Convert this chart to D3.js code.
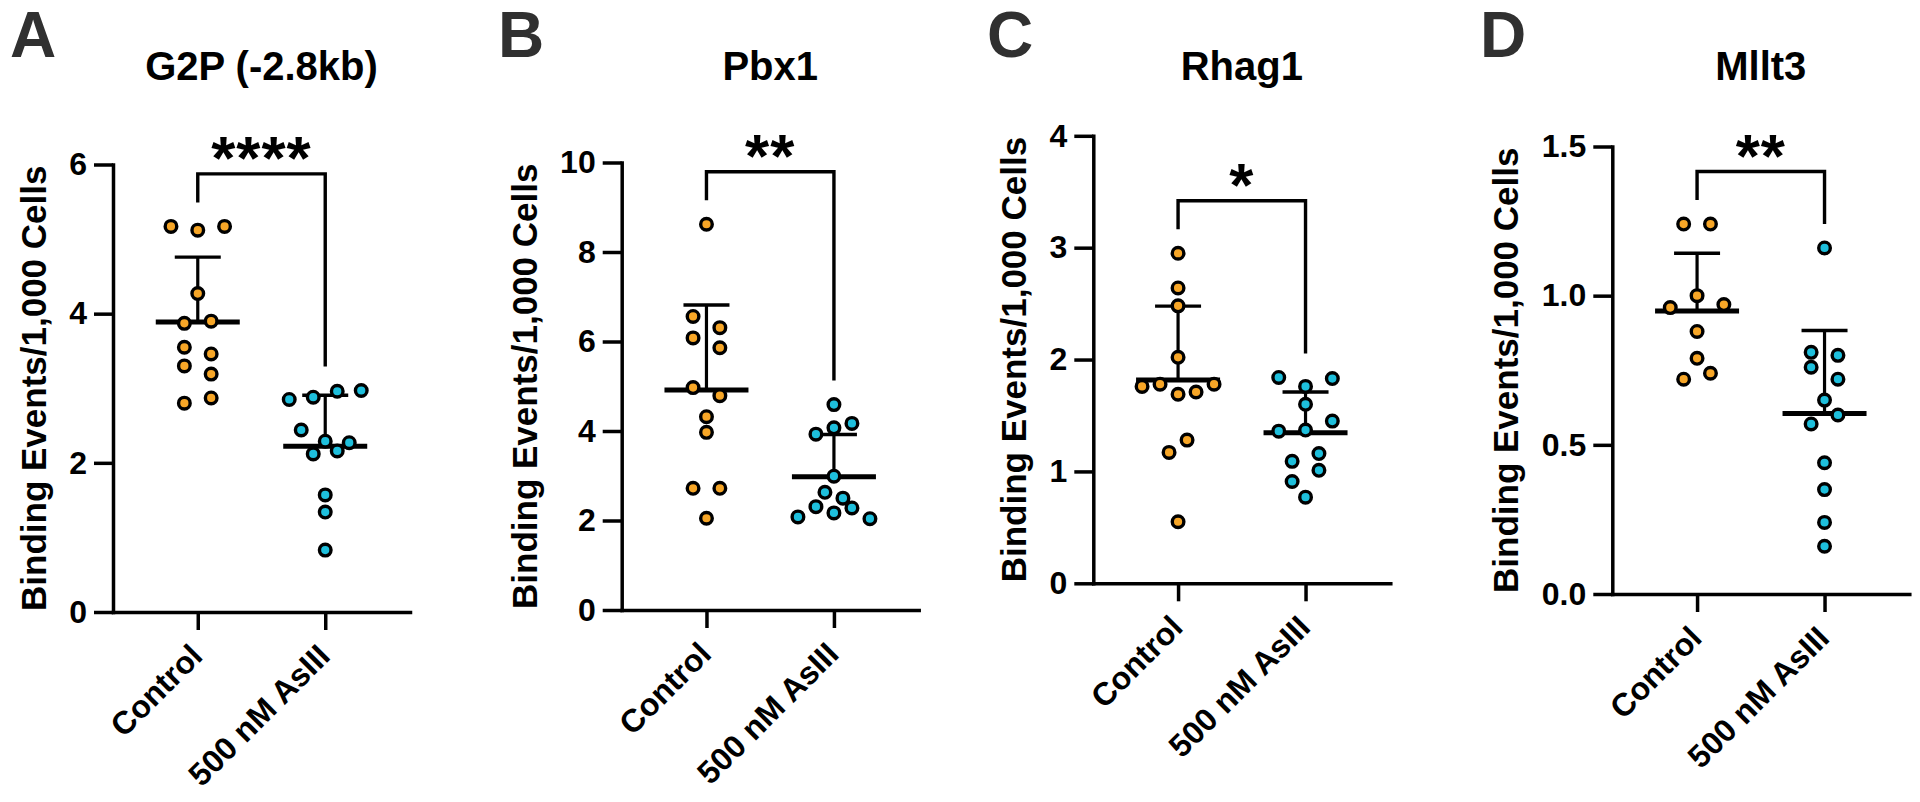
<!DOCTYPE html>
<html><head><meta charset="utf-8">
<script src="https://cdn.jsdelivr.net/npm/d3@7"></script>
<style>
body{margin:0;background:#fff}
svg{display:block}
text{font-family:"Liberation Sans",Arial,Helvetica,sans-serif;font-weight:bold;fill:#000}
</style>
</head><body>
<svg id="chart" width="1920" height="802"></svg>
<script>
// ---------- data ----------
const groups = ["Control", "500 nM AsIII"];
const panelLetters = ["A", "B", "C", "D"];
const titles = ["G2P (-2.8kb)", "Pbx1", "Rhag1", "Mllt3"];
const yLabel = "Binding Events/1,000 Cells";
const yDomains = [[0, 6], [0, 10], [0, 4], [0, 1.5]];
const yTickValues = [[0, 2, 4, 6], [0, 2, 4, 6, 8, 10], [0, 1, 2, 3, 4], [0, 0.5, 1.0, 1.5]];
const yTickFormats = ["d", "d", "d", ".1f"];
const significance = ["****", "**", "*", "**"];

const g2pControl = [5.17, 5.12, 5.17, 4.27, 3.87, 3.90, 3.55, 3.46, 3.30, 3.19, 2.80, 2.87];
const g2pAsIII   = [2.85, 2.88, 2.96, 2.97, 2.44, 2.29, 2.27, 2.12, 2.16, 1.57, 1.34, 0.83];
const pbx1Control = [8.62, 6.56, 6.31, 6.08, 5.86, 4.97, 4.79, 4.32, 3.97, 2.72, 2.72, 2.05];
const pbx1AsIII   = [4.59, 3.93, 4.07, 4.17, 2.99, 2.63, 2.50, 2.08, 2.31, 2.17, 2.28, 2.04];
const rhag1Control = [2.95, 2.64, 2.48, 2.02, 1.76, 1.78, 1.69, 1.71, 1.78, 1.17, 1.28, 0.55];
const rhag1AsIII   = [1.84, 1.76, 1.83, 1.60, 1.36, 1.37, 1.45, 1.09, 1.16, 0.91, 1.01, 0.77];
const mllt3Control = [1.24, 1.24, 0.96, 1.00, 0.97, 0.88, 0.79, 0.72, 0.74];
const mllt3AsIII   = [1.16, 0.81, 0.80, 0.76, 0.72, 0.65, 0.57, 0.60, 0.44, 0.35, 0.24, 0.16];

const panelSeries = [
  [g2pControl, g2pAsIII],
  [pbx1Control, pbx1AsIII],
  [rhag1Control, rhag1AsIII],
  [mllt3Control, mllt3AsIII]
];

// ---------- layout / style ----------
const frames = [
  {x: 113,    bottom: 612,   letterX: 10},
  {x: 621.7,  bottom: 610,   letterX: 498},
  {x: 1093.3, bottom: 583.3, letterX: 987},
  {x: 1612.3, bottom: 594,   letterX: 1480}
];
const plotW = 297, plotH = 447.5;
const colors = ["#F7A627", "#1EBFDC"];
const axisW = 3.5;
const dotR = 5.8, dotStroke = 3.4;

function swarmOffsets(values, y, rowPx, maxHalf, maxStep) {
  const idx = values.map((v, i) => i).sort((a, b) => values[b] - values[a] || a - b);
  const rows = [];
  let cur = null;
  idx.forEach(i => {
    const py = y(values[i]);
    if (cur && py - cur.y0 < rowPx) cur.items.push(i);
    else { cur = {y0: py, items: [i]}; rows.push(cur); }
  });
  const maxN = d3.max(rows, r => r.items.length);
  const step = maxN > 1 ? Math.min(maxStep, 2 * maxHalf / (maxN - 1)) : maxStep;
  const off = new Array(values.length).fill(0);
  rows.forEach(r => {
    r.items.sort((a, b) => a - b);
    const n = r.items.length;
    r.items.forEach((i, k) => off[i] = (k - (n - 1) / 2) * step);
  });
  return off;
}

const svg = d3.select("#chart");

panelSeries.forEach((series, p) => {
  const f = frames[p];
  const top = f.bottom - plotH;
  const g = svg.append("g");

  const y = d3.scaleLinear().domain(yDomains[p]).range([f.bottom, top]);
  const x = d3.scalePoint().domain(groups).range([f.x, f.x + plotW]).padding(0.665);

  // panel letter
  g.append("text").attr("x", f.letterX).attr("y", 57)
    .style("font-size", "64px").style("fill", "#303030").text(panelLetters[p]);
  // title
  g.append("text").attr("x", f.x + plotW / 2).attr("y", 80)
    .attr("text-anchor", "middle").style("font-size", "40px").text(titles[p]);

  // y axis
  const yAxisG = g.append("g").attr("transform", `translate(${f.x},0)`)
    .call(d3.axisLeft(y).tickValues(yTickValues[p]).tickFormat(d3.format(yTickFormats[p]))
      .tickSize(19).tickPadding(7).tickSizeOuter(0));
  yAxisG.select(".domain").attr("stroke", "#000").attr("stroke-width", axisW).attr("stroke-linecap", "square");
  yAxisG.selectAll(".tick line").attr("stroke", "#000").attr("stroke-width", axisW);
  yAxisG.selectAll(".tick text").style("font-size", "32px").attr("fill", "#000")
    .style("font-family", "'Liberation Sans',Arial,sans-serif").style("font-weight", "bold");

  // x axis
  const xAxisG = g.append("g").attr("transform", `translate(0,${f.bottom})`)
    .call(d3.axisBottom(x).tickSize(18).tickSizeOuter(0).tickPadding(0));
  xAxisG.select(".domain").attr("stroke", "#000").attr("stroke-width", axisW).attr("stroke-linecap", "square");
  xAxisG.selectAll(".tick line").attr("stroke", "#000").attr("stroke-width", axisW);
  xAxisG.selectAll(".tick text")
    .style("font-size", "32px").attr("fill", "#000")
    .style("font-family", "'Liberation Sans',Arial,sans-serif").style("font-weight", "bold")
    .attr("text-anchor", "end").attr("dy", null).attr("y", null)
    .attr("transform", "translate(6,46) rotate(-45)");

  // y label
  const bb = yAxisG.node().getBBox();
  const lx = f.x + bb.x - 16 - 0.21 * 35;
  const cy = (f.bottom + top) / 2;
  g.append("text").attr("transform", `translate(${lx},${cy}) rotate(-90)`)
    .attr("text-anchor", "middle").style("font-size", "35px").text(yLabel);

  // mean + SD (upper) bars and dots
  series.forEach((vals, gi) => {
    const cx = x(groups[gi]);
    const m = d3.mean(vals), sd = d3.deviation(vals);
    g.append("line").attr("x1", cx).attr("x2", cx).attr("y1", y(m)).attr("y2", y(m + sd))
      .attr("stroke", "#000").attr("stroke-width", 3.2);
    g.append("line").attr("x1", cx - 23).attr("x2", cx + 23).attr("y1", y(m + sd)).attr("y2", y(m + sd))
      .attr("stroke", "#000").attr("stroke-width", 3.4);
    g.append("line").attr("x1", cx - 42).attr("x2", cx + 42).attr("y1", y(m)).attr("y2", y(m))
      .attr("stroke", "#000").attr("stroke-width", 5);
  });
  series.forEach((vals, gi) => {
    const cx = x(groups[gi]);
    const off = swarmOffsets(vals, y, 13, 36, 26.8);
    g.append("g").selectAll("circle").data(vals).join("circle")
      .attr("cx", (d, i) => cx + off[i]).attr("cy", d => y(d)).attr("r", dotR)
      .attr("fill", colors[gi]).attr("stroke", "#000").attr("stroke-width", dotStroke);
  });

  // significance bracket
  const legEnds = series.map(vals => y(Math.max(d3.max(vals), d3.mean(vals) + d3.deviation(vals))) - 24);
  const brY = Math.min(...legEnds) - 28.5;
  const x1 = x(groups[0]), x2 = x(groups[1]);
  g.append("path")
    .attr("d", `M${x1},${legEnds[0]}V${brY}H${x2}V${legEnds[1]}`)
    .attr("fill", "none").attr("stroke", "#000").attr("stroke-width", 3.4);
  const fs = 62;
  g.append("text").attr("x", (x1 + x2) / 2).attr("y", brY - 29 + 0.55 * fs)
    .attr("text-anchor", "middle").style("font-size", fs + "px").style("letter-spacing", "1px")
    .text(significance[p]);
});
</script>
</body></html>
